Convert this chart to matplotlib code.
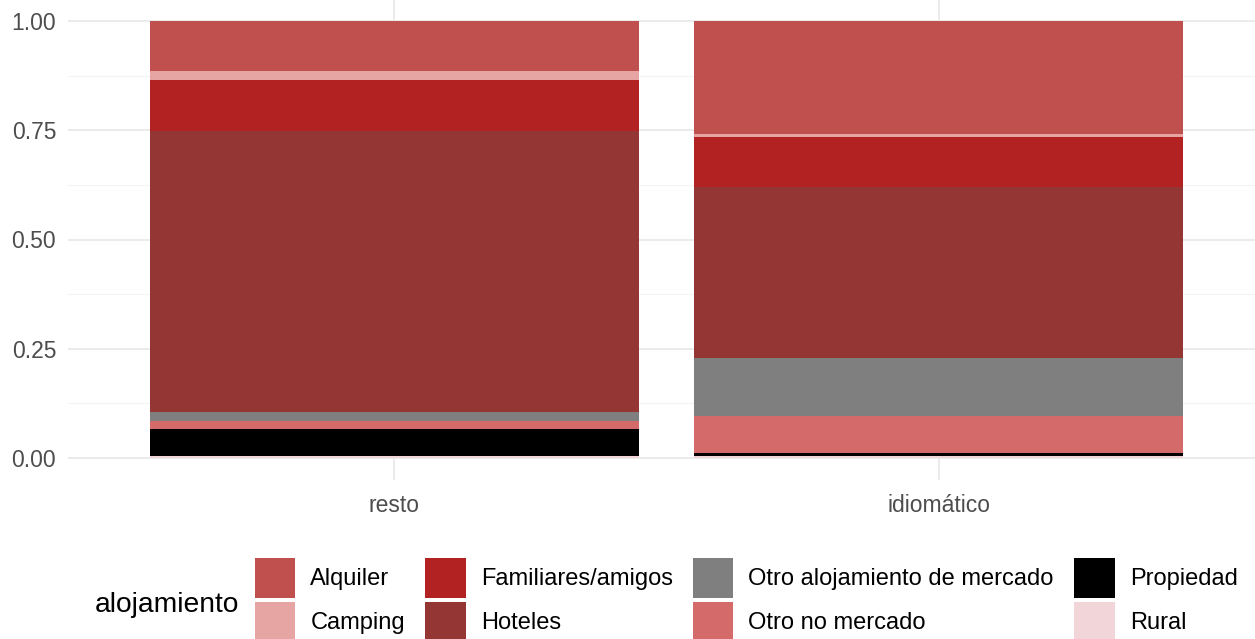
import numpy as np
import matplotlib
matplotlib.use("Agg")
import matplotlib.pyplot as plt
from matplotlib.patches import Patch

plt.rcParams["font.family"] = ["Liberation Sans", "DejaVu Sans"]

# data: share of each accommodation type per group (bottom to top of the stack)
grupos = ["resto", "idiomático"]
alojamientos = ["Rural", "Propiedad", "Otro no mercado", "Otro alojamiento de mercado",
                "Hoteles", "Familiares/amigos", "Camping", "Alquiler"]
resto = [0.006, 0.061, 0.018, 0.021, 0.641, 0.118, 0.021, 0.114]
idiomatico = [0.006, 0.006, 0.084, 0.133, 0.390, 0.116, 0.006, 0.259]

colores = {
    "Alquiler": "#C0504D",
    "Camping": "#E6A5A2",
    "Familiares/amigos": "#B22222",
    "Hoteles": "#943634",
    "Otro alojamiento de mercado": "#7F7F7F",
    "Otro no mercado": "#D46A6A",
    "Propiedad": "#000000",
    "Rural": "#F2D5D8",
}

W, H = 1255, 639
fig = plt.figure(figsize=(W / 100, H / 100), dpi=100)
ax = fig.add_axes([68 / W, (H - 480) / H, (1265 - 68) / W, 481 / H])

vals = np.array([resto, idiomatico]).T
vals = vals / vals.sum(axis=0)
x = np.arange(1, len(grupos) + 1)
bottom = np.zeros(len(grupos))
for nombre, v in zip(alojamientos, vals):
    ax.bar(x, v, bottom=bottom, width=0.9, color=colores[nombre], linewidth=0, zorder=2)
    bottom += v

ax.set_xlim(0.4, 2.6)
ax.set_ylim(-0.05, 1.05)
ax.set_xticks(x)
ax.set_xticklabels(grupos)
ax.set_yticks([0, 0.25, 0.5, 0.75, 1.0])
ax.set_yticklabels(["0.00", "0.25", "0.50", "0.75", "1.00"])
ax.set_yticks([0.125, 0.375, 0.625, 0.875], minor=True)
ax.tick_params(axis="both", which="both", length=0, labelsize=16.5, colors="#4D4D4D")
ax.tick_params(axis="y", pad=8.5)
ax.tick_params(axis="x", pad=10)
ax.grid(True, which="major", color="#EBEBEB", linewidth=1.4, zorder=0)
ax.grid(True, which="minor", axis="y", color="#F3F3F3", linewidth=0.8, zorder=0)
for s in ax.spines.values():
    s.set_visible(False)

# legend: two rows, filled column by column, as in ggplot
orden = ["Alquiler", "Camping", "Familiares/amigos", "Hoteles",
         "Otro alojamiento de mercado", "Otro no mercado", "Propiedad", "Rural"]
handles = [Patch(facecolor=colores[n], edgecolor="none", label=n) for n in orden]
fig.legend(handles=handles, loc="upper left", ncol=4, frameon=False,
           bbox_to_anchor=(255 / W, 1 - 558 / H), borderaxespad=0, borderpad=0,
           fontsize=17, handlelength=1.7, handleheight=2.23, handletextpad=0.64,
           columnspacing=0.87, labelspacing=0.17)
fig.text(95 / W, 1 - 605 / H, "alojamiento", fontsize=20.3, va="center", ha="left")

fig.savefig("out.png", dpi=100)
